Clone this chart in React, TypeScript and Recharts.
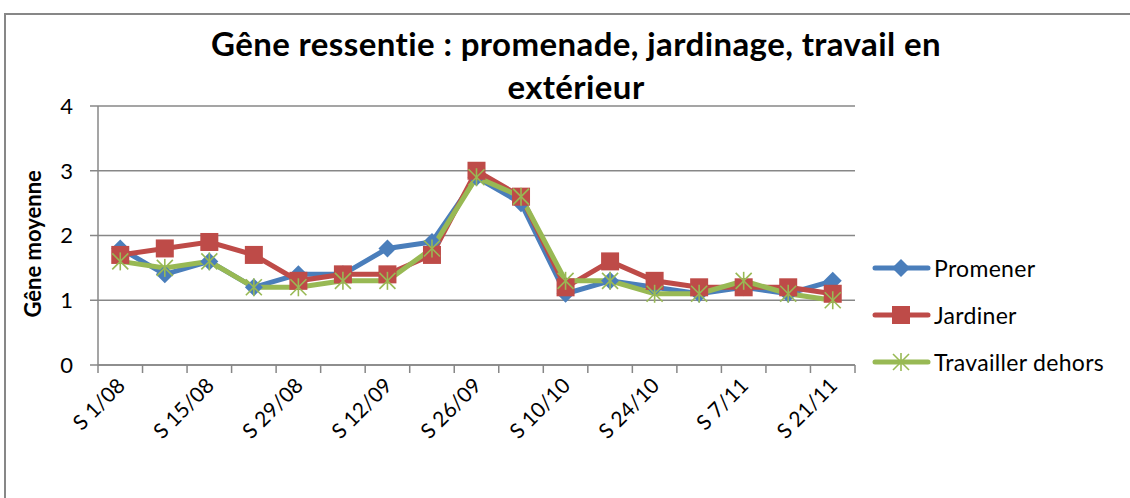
import React from 'react';
import { LineChart, Line, XAxis, YAxis, CartesianGrid } from 'recharts';

const categories = [
  'S 1/08', 'S 8/08', 'S 15/08', 'S 22/08', 'S 29/08', 'S 5/09', 'S 12/09', 'S 19/09', 'S 26/09',
  'S 3/10', 'S 10/10', 'S 17/10', 'S 24/10', 'S 31/10', 'S 7/11', 'S 14/11', 'S 21/11',
];
const promener = [1.8, 1.4, 1.6, 1.2, 1.4, 1.4, 1.8, 1.9, 2.9, 2.5, 1.1, 1.3, 1.2, 1.1, 1.2, 1.1, 1.3];
const jardiner = [1.7, 1.8, 1.9, 1.7, 1.3, 1.4, 1.4, 1.7, 3.0, 2.6, 1.2, 1.6, 1.3, 1.2, 1.2, 1.2, 1.1];
const travailler = [1.6, 1.5, 1.6, 1.2, 1.2, 1.3, 1.3, 1.8, 2.9, 2.6, 1.3, 1.3, 1.1, 1.1, 1.3, 1.1, 1.0];
const yTicks = [0, 1, 2, 3, 4];

const BLUE = '#4A7EBB';
const RED = '#BE4B48';
const GREEN = '#98B954';
const GRID = '#878787';
const FONT = 'Lato, "Open Sans", sans-serif';

const data = categories.map((c, i) => ({
  idx: i,
  cat: c,
  promener: promener[i],
  jardiner: jardiner[i],
  travailler: travailler[i],
}));

// ticks at category boundaries (for the tick marks) and centres (for labels)
const xTicks: number[] = [];
for (let i = 0; i <= categories.length * 2; i++) xTicks.push(i / 2 - 0.5);

const Diamond = ({ cx, cy }: any) => {
  if (cx == null || cy == null) return null;
  const s = 9;
  return <polygon points={`${cx},${cy - s} ${cx + s},${cy} ${cx},${cy + s} ${cx - s},${cy}`} fill={BLUE} />;
};

const Square = ({ cx, cy }: any) => {
  if (cx == null || cy == null) return null;
  return <rect x={cx - 9} y={cy - 9} width={18} height={18} fill={RED} />;
};

const Star = ({ cx, cy }: any) => {
  if (cx == null || cy == null) return null;
  const s = 8;
  return (
    <g stroke={GREEN} strokeWidth={1.6}>
      <line x1={cx - s} y1={cy - s} x2={cx + s} y2={cy + s} />
      <line x1={cx - s} y1={cy + s} x2={cx + s} y2={cy - s} />
      <line x1={cx} y1={cy - s - 1} x2={cx} y2={cy + s + 1} />
    </g>
  );
};

const XTick = ({ x, y, payload }: any) => {
  const v = payload.value;
  if (!Number.isInteger(v)) {
    return <line x1={x} y1={y} x2={x} y2={y + 8} stroke={GRID} strokeWidth={1.5} />;
  }
  if (v % 2 !== 0) return null;
  return (
    <text
      x={x + 6}
      y={y + 22}
      transform={`rotate(-45, ${x + 6}, ${y + 22})`}
      textAnchor="end"
      fontSize={21}
      fontFamily={FONT}
      fill="#000"
    >
      {categories[v]}
    </text>
  );
};

const legendItems = [
  { name: 'Promener', color: BLUE, mark: 'diamond' },
  { name: 'Jardiner', color: RED, mark: 'square' },
  { name: 'Travailler dehors', color: GREEN, mark: 'star' },
];

const LegendIcon = ({ color, mark }: any) => (
  <svg width={60} height={22} style={{ display: 'block' }}>
    <line x1={3} y1={11} x2={56} y2={11} stroke={color} strokeWidth={5} strokeLinecap="round" />
    {mark === 'diamond' && <Diamond cx={29} cy={11} />}
    {mark === 'square' && <Square cx={29} cy={11} />}
    {mark === 'star' && <Star cx={29} cy={11} />}
  </svg>
);

export default function App() {
  return (
    <div style={{ position: 'fixed', left: 0, top: 0, width: 1130, height: 498, background: '#fff', overflow: 'hidden', fontFamily: FONT }}>
      <div style={{ position: 'absolute', left: 4, top: 13, width: 1140, height: 500, border: `2px solid ${GRID}` }} />
      <div
        style={{
          position: 'absolute',
          left: 0,
          top: 22,
          width: 1152,
          textAlign: 'center',
          fontSize: 33,
          fontWeight: 700,
          letterSpacing: 0.4,
          lineHeight: '43px',
          color: '#000',
        }}
      >
        Gêne ressentie : promenade, jardinage, travail en
        <br />
        extérieur
      </div>
      <LineChart
        width={1130}
        height={498}
        data={data}
        margin={{ top: 106, right: 275, bottom: 33, left: 38 }}
        style={{ position: 'absolute', left: 0, top: 0 }}
      >
        <CartesianGrid horizontal vertical={false} stroke={GRID} strokeWidth={1.5} />
        <XAxis
          dataKey="idx"
          type="number"
          domain={[-0.5, categories.length - 0.5]}
          ticks={xTicks}
          interval={0}
          height={100}
          tickSize={0}
          tickMargin={0}
          tickLine={false}
          tick={<XTick />}
          axisLine={{ stroke: GRID, strokeWidth: 1.5 }}
        />
        <YAxis
          domain={[0, 4]}
          ticks={yTicks}
          width={60}
          tickSize={8}
          tickMargin={17}
          tickLine={{ stroke: GRID, strokeWidth: 1.5 }}
          axisLine={{ stroke: GRID, strokeWidth: 1.5 }}
          tick={{ fontSize: 22, fill: '#000', fontFamily: FONT }}
          label={{
            value: 'Gêne moyenne',
            angle: -90,
            position: 'insideLeft',
            dx: -10,
            dy: 82,
            style: { fontSize: 22, fontWeight: 700, fill: '#000', fontFamily: FONT },
          }}
        />
        <Line dataKey="promener" name="Promener" stroke={BLUE} strokeWidth={5} dot={<Diamond />} activeDot={false} isAnimationActive={false} />
        <Line dataKey="jardiner" name="Jardiner" stroke={RED} strokeWidth={5} dot={<Square />} activeDot={false} isAnimationActive={false} />
        <Line dataKey="travailler" name="Travailler dehors" stroke={GREEN} strokeWidth={5} dot={<Star />} activeDot={false} isAnimationActive={false} />
      </LineChart>
      <div style={{ position: 'absolute', left: 872, top: 244 }}>
        {legendItems.map((it) => (
          <div key={it.name} style={{ display: 'flex', alignItems: 'center', height: 47 }}>
            <LegendIcon color={it.color} mark={it.mark} />
            <span style={{ fontSize: 23, color: '#000', marginLeft: 2, lineHeight: '26px', letterSpacing: 0.3 }}>{it.name}</span>
          </div>
        ))}
      </div>
    </div>
  );
}
